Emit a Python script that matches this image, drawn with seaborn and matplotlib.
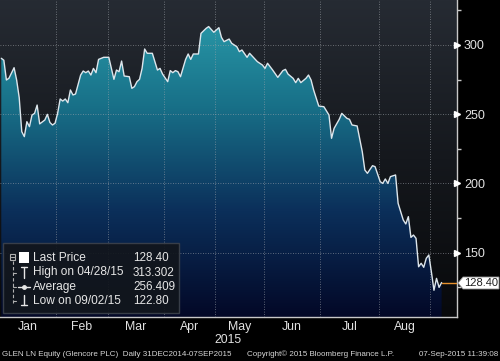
import numpy as np
import seaborn as sns
import matplotlib.pyplot as plt
from matplotlib.colors import LinearSegmentedColormap
from matplotlib.patches import Rectangle, Polygon
from matplotlib.lines import Line2D
from matplotlib.transforms import blended_transform_factory

# GLEN LN daily close, x = trading-day number counted from 31 Dec 2014
day = [0, 1, 2, 3, 5, 6, 7, 8, 9, 10, 11, 12, 13, 14, 15, 17, 18, 19, 20, 21,
       22, 23, 24, 25, 26, 27, 28, 29, 31, 32, 33, 34, 35, 36, 37, 38, 40, 42, 44, 45,
       46, 47, 48, 50, 51, 52, 53, 54, 55, 56, 57, 59, 61, 62, 63, 65, 66, 67, 68, 69,
       70, 72, 73, 74, 75, 77, 78, 80, 81, 83, 85, 86, 87, 89, 90, 92, 93, 94, 96, 97,
       98, 100, 102, 103, 104, 106, 108, 110, 111, 112, 114, 115, 116, 117, 119, 120, 121, 122, 124, 126,
       128, 129, 130, 132, 133, 135, 136, 137, 139, 141, 142, 143, 145, 146, 148, 149, 150, 151, 152, 154,
       155, 157, 158, 159, 160, 161, 162, 163, 164, 165, 166, 167, 168, 169, 170, 171, 172]
price = [290.4, 289.0, 274.7, 276.0, 283.6, 274.7, 262.0, 237.4, 233.8, 244.6, 241.0, 249.4, 250.6, 256.6, 243.0, 245.8, 249.9, 244.0, 242.2, 243.5,
         250.6, 261.0, 259.5, 261.0, 258.3, 267.5, 263.9, 264.6, 278.3, 281.2, 280.0, 281.2, 278.3, 283.1, 280.0, 289.6, 291.1, 291.1, 275.2, 281.9,
         280.7, 288.4, 277.6, 277.1, 268.7, 269.9, 273.5, 275.2, 283.1, 297.1, 294.0, 294.0, 281.9, 283.1, 279.0, 273.5, 281.5, 280.0, 281.5, 280.7,
         277.1, 289.6, 293.5, 289.6, 293.5, 293.5, 308.4, 312.0, 313.3, 309.2, 312.5, 305.5, 302.4, 304.3, 301.2, 298.8, 295.2, 296.4, 291.1, 294.0,
         292.0, 288.0, 285.5, 283.1, 286.8, 281.9, 276.6, 281.5, 282.4, 279.0, 275.9, 272.8, 275.9, 272.8, 275.9, 278.3, 274.7, 267.5, 255.9, 255.4,
         249.4, 232.6, 239.8, 246.3, 250.6, 247.0, 246.3, 242.2, 241.5, 222.9, 209.7, 207.3, 212.8, 212.1, 201.3, 200.0, 203.2, 200.0, 204.9, 206.1,
         185.6, 173.6, 170.7, 176.0, 161.0, 162.7, 160.3, 139.8, 142.3, 139.4, 145.9, 148.3, 136.0, 122.8, 131.4, 124.9, 128.4]

month_names = ['Jan', 'Feb', 'Mar', 'Apr', 'May', 'Jun', 'Jul', 'Aug']
month_start = [0, 22, 42, 64, 84, 103, 125, 148, 168]   # first trading day of each month
y_major = [150, 200, 250, 300]
y_minor = [125, 175, 225, 275, 325]
last_price = 128.40
legend_rows = [('Last Price', '128.40'), ('High on 04/28/15', '313.302'),
               ('Average', '256.409'), ('Low on 09/02/15', '122.80')]

sns.set_theme(style='dark')
plt.rcParams['font.family'] = ['Liberation Sans', 'DejaVu Sans']

W, H = 500, 361
def px(x, y):
    return x / W, 1 - y / H

fig = plt.figure(figsize=(5, 3.61), dpi=100, facecolor='black')
ax = fig.add_axes([0, 1 - 317 / H, 457 / W, 317 / H])
xlim = (-0.5, 178)
ylim = (103.5, 332.5)

# background and area gradients
grad = np.linspace(0, 1, 256).reshape(-1, 1)
bg_cmap = LinearSegmentedColormap.from_list('bg', ['#08090b', '#15181d', '#262b33'])
ax.imshow(grad, cmap=bg_cmap, origin='lower', aspect='auto',
          extent=[*xlim, *ylim], zorder=0)
area_cmap = LinearSegmentedColormap.from_list('area', ['#030827', '#0b2f5a', '#187088', '#2ca0ae'])
im = ax.imshow(grad, cmap=area_cmap, origin='lower', aspect='auto',
               extent=[*xlim, *ylim], zorder=1)
poly = ax.fill_between(day, price, ylim[0], color='none', lw=0)
im.set_clip_path(poly.get_paths()[0], ax.transData)

sns.lineplot(x=day, y=price, color='#dde6ec', lw=1.0, ax=ax, zorder=3)
ax.plot([day[-1], xlim[1]], [last_price, last_price], color='#e8912d', lw=1, zorder=3)

ax.set_xlim(*xlim)
ax.set_ylim(*ylim)

# grid / ticks
ax.set_yticks(y_major)
ax.set_yticks(y_minor, minor=True)
ax.set_xticks([m - 0.5 for m in month_start[1:]])
ax.set_xticklabels([])
mids = [(month_start[i] + month_start[i + 1]) / 2 - 0.5 for i in range(len(month_names))]
ax.set_xticks(mids, minor=True)
ax.set_xticklabels(month_names, minor=True)
ax.set_axisbelow(False)
ax.grid(True, which='major', color='#a0a5ab', ls=(0, (1, 2)), lw=0.6, alpha=0.75)
ax.tick_params(axis='y', which='both', left=False, right=True, labelleft=False,
               labelright=True, colors='#e2e2e2', labelsize=9, pad=5)
ax.tick_params(axis='y', which='major', length=0)
ax.tick_params(axis='y', which='minor', length=3, color='#c8c8c8')
ax.tick_params(axis='x', which='major', length=5, color='#c8c8c8', direction='out')
ax.tick_params(axis='x', which='minor', length=0, colors='#e2e2e2', labelsize=8.8, pad=3)
for s in ['left', 'top']:
    ax.spines[s].set_visible(False)
for s in ['right', 'bottom']:
    ax.spines[s].set_color('#c8c8c8')
    ax.spines[s].set_linewidth(1)
ax.set_xlabel('')
ax.set_ylabel('')

trans = blended_transform_factory(ax.transAxes, ax.transData)
ax.plot([1.0] * len(y_major), y_major, ls='none', marker='>', ms=4.5, color='white',
        transform=trans, clip_on=False, zorder=5)

fig.text(*px(228, 340), '2015', ha='center', va='center', color='#e2e2e2', fontsize=8.8)

# legend panel
fig.add_artist(Rectangle(px(3, 313), 176 / W, 70 / H, transform=fig.transFigure,
                         facecolor='#12161c', edgecolor='#3c424b', lw=1, alpha=0.92))
row_y = [258, 272.5, 287, 301]
for (lab, val), ry in zip(legend_rows, row_y):
    fig.text(*px(33, ry), lab, ha='left', va='center', color='#e6e6e6', fontsize=8.6)
    fig.text(*px(133, ry), val, ha='left', va='center', color='#e6e6e6', fontsize=8.4)

def seg(x0, y0, x1, y1, **kw):
    fig.add_artist(Line2D([x0 / W, x1 / W], [1 - y0 / H, 1 - y1 / H],
                          transform=fig.transFigure, **kw))

grey = '#b0b0b0'
fig.add_artist(Rectangle(px(10, 260), 5 / W, 6 / H, transform=fig.transFigure,
                         facecolor='none', edgecolor=grey, lw=0.8))
seg(11, 257, 14, 257, color=grey, lw=0.8)
fig.add_artist(Rectangle(px(19, 263), 10 / W, 11 / H, transform=fig.transFigure,
                         facecolor='white', edgecolor='white', lw=0))
seg(12.5, 261, 12.5, 303, color=grey, lw=0.8, ls=(0, (3, 2)))
for ry in row_y[1:]:
    seg(12.5, ry, 16, ry, color=grey, lw=0.8)
seg(21, 267, 27, 267, color='#e6e6e6', lw=1)
seg(24, 267, 24, 278, color='#e6e6e6', lw=1)
seg(18, 287, 30, 287, color='#e6e6e6', lw=1)
fig.add_artist(Line2D([24 / W], [1 - 287 / H], marker='o', ms=2.5, color='#e6e6e6',
                      transform=fig.transFigure))
seg(24, 295, 24, 305, color='#e6e6e6', lw=1)
seg(21, 305, 27, 305, color='#e6e6e6', lw=1)

# last price tag
tag = [px(458, 283), px(463, 277), px(499, 277), px(499, 289), px(463, 289)]
fig.add_artist(Polygon(tag, closed=True, transform=fig.transFigure,
                       facecolor='white', edgecolor='#909090', lw=0.6))
fig.text(*px(481, 283.5), '128.40', ha='center', va='center', color='#202020', fontsize=8)

# footer
fig.text(*px(2, 354), 'GLEN LN Equity (Glencore PLC)  Daily 31DEC2014-07SEP2015',
         ha='left', va='center', color='#d6d6d6', fontsize=5.8)
fig.text(*px(247, 354), 'Copyright\u00a9 2015 Bloomberg Finance L.P.',
         ha='left', va='center', color='#d6d6d6', fontsize=5.8)
fig.text(*px(498, 354), '07-Sep-2015 11:39:08', ha='right', va='center',
         color='#d6d6d6', fontsize=5.8)

fig.savefig('out.png', dpi=100, facecolor='black')
